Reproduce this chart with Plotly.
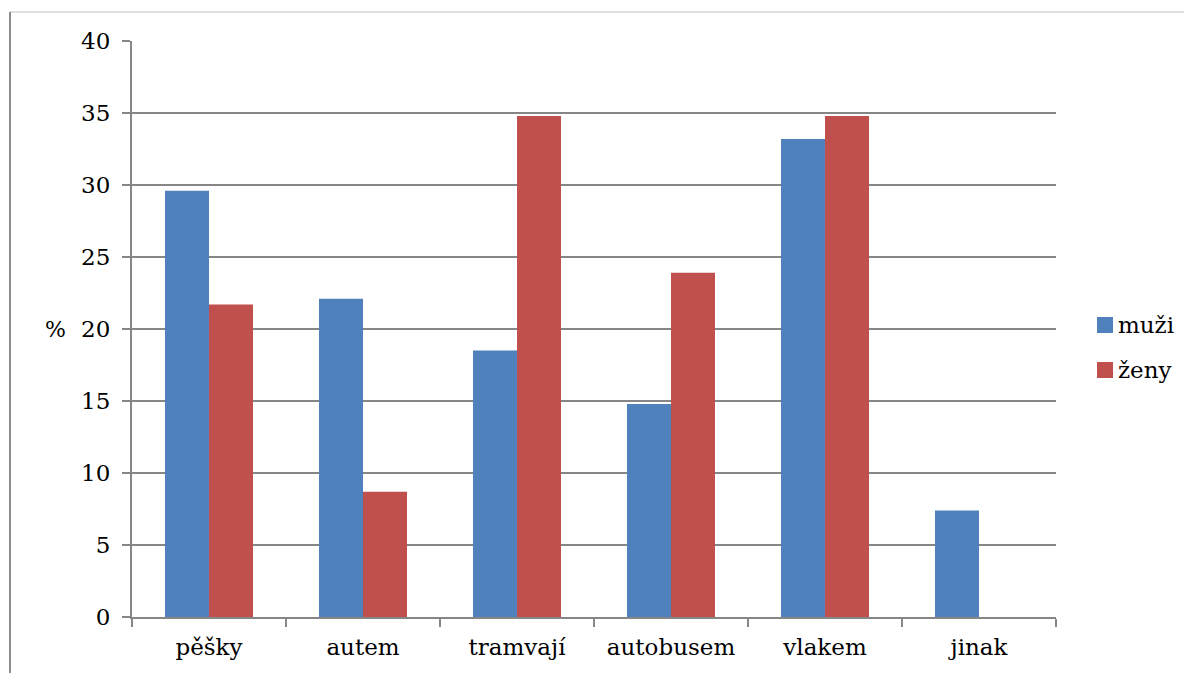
import plotly.graph_objects as go

# Travel mode shares by gender (%)
categories = ["pěšky", "autem", "tramvají", "autobusem", "vlakem", "jinak"]
muzi = [29.6, 22.1, 18.5, 14.8, 33.2, 7.4]
zeny = [21.7, 8.7, 34.8, 23.9, 34.8, 0.0]
series_names = ["muži", "ženy"]
series_colors = ["#4F81BD", "#C0504D"]
y_ticks = [0, 5, 10, 15, 20, 25, 30, 35, 40]

W, H = 1184, 673
L, R, T, B = 132, 128, 41, 56
plot_w = W - L - R
plot_h = H - T - B


def px_x(px):
    return (px - L) / plot_w


def px_y(py):
    return (H - B - py) / plot_h


FONT = "DejaVu Serif"
GRID = "#868686"

fig = go.Figure()
for name, vals, col in zip(series_names, [muzi, zeny], series_colors):
    fig.add_trace(go.Bar(x=categories, y=vals, name=name, marker_color=col,
                         marker_line_width=0, showlegend=False))

fig.update_layout(
    width=W, height=H,
    margin=dict(l=L, r=R, t=T, b=B, autoexpand=False),
    paper_bgcolor="white", plot_bgcolor="white",
    barmode="group", bargap=0.4286, bargroupgap=0,
    font=dict(family=FONT, size=23, color="black"),
)

fig.update_xaxes(
    type="category", showline=True, linecolor=GRID, linewidth=2,
    ticks="outside", tickson="boundaries", ticklen=8, tickwidth=2, tickcolor=GRID,
    showgrid=False, tickfont=dict(family=FONT, size=23, color="black"),
    ticklabelstandoff=8,
)
fig.update_yaxes(
    range=[0, 40], tickvals=y_ticks, showline=True, linecolor=GRID, linewidth=2,
    ticks="outside", ticklen=8, tickwidth=2, tickcolor=GRID,
    showgrid=True, gridcolor=GRID, gridwidth=2, zeroline=False,
    tickfont=dict(family=FONT, size=23, color="black"),
    ticklabelstandoff=7,
)

# Chart frame (top and left edges)
fig.add_shape(type="line", xref="paper", yref="paper",
              x0=px_x(10), x1=px_x(W), y0=px_y(12), y1=px_y(12),
              line=dict(color="#d4d4d4", width=1.5))
fig.add_shape(type="line", xref="paper", yref="paper",
              x0=px_x(10), x1=px_x(10), y0=px_y(12), y1=px_y(H),
              line=dict(color="#8c8c8c", width=2))

# Axis title
fig.add_annotation(text="%", xref="paper", yref="paper", x=px_x(68), y=px_y(329),
                   xanchor="right", yanchor="middle", showarrow=False,
                   font=dict(family=FONT, size=22, color="black"))

# Legend
for i, (name, col) in enumerate(zip(series_names, series_colors)):
    cy = 325 + 45 * i
    fig.add_shape(type="rect", xref="paper", yref="paper",
                  x0=px_x(1097), x1=px_x(1113), y0=px_y(cy + 8), y1=px_y(cy - 8),
                  fillcolor=col, line_width=0)
    fig.add_annotation(text=name, xref="paper", yref="paper", x=px_x(1116), y=px_y(cy),
                       xanchor="left", yanchor="middle", showarrow=False,
                       font=dict(family=FONT, size=23, color="black"))

fig.write_html("out.html")
